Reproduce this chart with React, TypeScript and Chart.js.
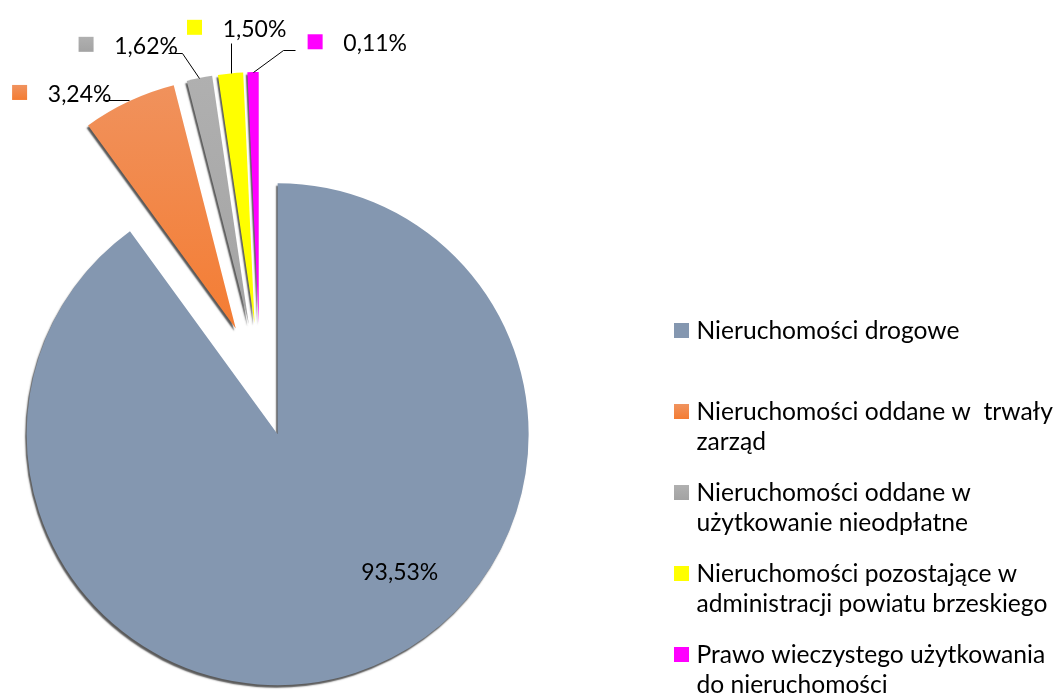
import React, { useEffect, useRef } from "react";
import { Chart, registerables } from "chart.js";

Chart.register(...registerables);

// ---- data ----
const categories = [
  "Nieruchomości drogowe",
  "Nieruchomości oddane w  trwały\nzarząd",
  "Nieruchomości oddane w\nużytkowanie nieodpłatne",
  "Nieruchomości pozostające w\nadministracji powiatu brzeskiego",
  "Prawo wieczystego użytkowania\ndo nieruchomości",
];
// percentages printed on the chart
const percentValues = [93.53, 3.24, 1.62, 1.5, 0.11];
// angular share of each slice as drawn in the picture (degrees / 3.6)
const sliceShares = [89.9, 6.03, 1.64, 1.61, 0.72];
const sliceColors = ["#8497B0", "#F2853F", "#A9A9A9", "#FFFF00", "#FF00FF"];

// ---- style / layout ----
const RADIUS = 251;
const EXPLODE = 57;
const LABEL_FONT = "23px Lato";
const LEGEND_FONT = "24.6px Lato";
// text left/baseline relative to the outer mid point of each slice
const labelOffsets: number[][] = [
  [6, -92.6],
  [-81.2, 0.4],
  [-85.1, -24.5],
  [-7.8, -36.9],
  [90.3, -21.1],
];
const leaderPaths: number[][][] = [
  [],
  [[0, -1.3], [-26, -1.3]],
  [[0, 0], [-17.7, -25.3], [-31.1, -25.3]],
  [[0, 0], [0, -30.7]],
  [[0, 0], [30.3, -22.1], [42, -22.1]],
];
const showKey = [false, true, true, true, true];
const LEGEND_SQ_X = 674;
const LEGEND_TEXT_X = 696.5;
const LEGEND_BASE = 338.5;
const LEGEND_STEP = 81;
const LEGEND_LINE = 30.5;

function fmt(v: number) {
  return v.toFixed(2).replace(".", ",") + "%";
}

function fillFor(ctx: CanvasRenderingContext2D, i: number, y0: number, y1: number) {
  if (i === 1) {
    const g = ctx.createLinearGradient(0, y0, 0, y1);
    g.addColorStop(0, "#F0935F");
    g.addColorStop(1, "#F47C32");
    return g;
  }
  if (i === 2) {
    const g = ctx.createLinearGradient(0, y0, 0, y1);
    g.addColorStop(0, "#B0B0B0");
    g.addColorStop(1, "#A3A3A3");
    return g;
  }
  return sliceColors[i];
}

const decorPlugin = {
  id: "pieDecor",
  beforeDatasetsDraw(chart: any) {
    const meta = chart.getDatasetMeta(0);
    const a = chart.chartArea;
    const cx = (a.left + a.right) / 2;
    const cy = (a.top + a.bottom) / 2;
    meta.data.forEach((el: any) => {
      const mid = (el.startAngle + el.endAngle) / 2;
      el.x = cx + Math.cos(mid) * EXPLODE;
      el.y = cy + Math.sin(mid) * EXPLODE;
    });
    const ctx = chart.ctx;
    ctx.save();
    ctx.shadowColor = "rgba(0,0,0,0.65)";
    ctx.shadowBlur = 1.5;
    ctx.shadowOffsetX = -1.5;
    ctx.shadowOffsetY = 2.5;
  },
  afterDatasetsDraw(chart: any) {
    const ctx: CanvasRenderingContext2D = chart.ctx;
    ctx.restore();
    const meta = chart.getDatasetMeta(0);
    ctx.save();
    meta.data.forEach((el: any, i: number) => {
      const mid = (el.startAngle + el.endAngle) / 2;
      const ax = el.x + Math.cos(mid) * el.outerRadius;
      const ay = el.y + Math.sin(mid) * el.outerRadius;
      const path = leaderPaths[i];
      if (path.length) {
        ctx.beginPath();
        ctx.strokeStyle = "#000";
        ctx.lineWidth = 1;
        path.forEach(([dx, dy], k) => {
          const px = Math.round(ax + dx) + 0.5;
          const py = Math.round(ay + dy) + 0.5;
          if (k === 0) ctx.moveTo(px, py);
          else ctx.lineTo(px, py);
        });
        ctx.stroke();
      }
      const tx = ax + labelOffsets[i][0];
      const ty = ay + labelOffsets[i][1];
      if (showKey[i]) {
        const top = ty - 1.7 - 15;
        ctx.fillStyle = fillFor(ctx, i, top, top + 15) as any;
        ctx.fillRect(tx - 35.7, top, 15, 15);
      }
      ctx.fillStyle = "#000";
      ctx.font = LABEL_FONT;
      ctx.textAlign = "left";
      ctx.textBaseline = "alphabetic";
      ctx.fillText(fmt(percentValues[i]), tx, ty);
    });

    // legend
    categories.forEach((name, i) => {
      const base = LEGEND_BASE + i * LEGEND_STEP;
      const top = base - 15.5;
      ctx.fillStyle = fillFor(ctx, i, top, top + 15) as any;
      ctx.fillRect(LEGEND_SQ_X, top, 15, 15);
      ctx.fillStyle = "#000";
      ctx.font = LEGEND_FONT;
      ctx.textAlign = "left";
      ctx.textBaseline = "alphabetic";
      name.split("\n").forEach((line, k) => {
        ctx.fillText(line, LEGEND_TEXT_X, base + k * LEGEND_LINE);
      });
    });
    ctx.restore();
  },
};

export default function App() {
  const ref = useRef<HTMLCanvasElement | null>(null);
  useEffect(() => {
    if (!ref.current) return;
    const chart = new Chart(ref.current, {
      type: "pie",
      data: {
        labels: categories,
        datasets: [
          {
            data: sliceShares,
            backgroundColor: (c: any) => fillFor(c.chart.ctx, c.dataIndex, 70, 335),
            borderWidth: 0,
            radius: RADIUS,
            clip: false,
          } as any,
        ],
      },
      options: {
        responsive: false,
        animation: false,
        events: [],
        layout: { padding: { left: 0, right: 534, top: 67, bottom: 0 } },
        plugins: { legend: { display: false }, tooltip: { enabled: false } },
      },
      plugins: [decorPlugin],
    });
    return () => chart.destroy();
  }, []);
  return (
    <div style={{ position: "fixed", left: 0, top: 0, width: 1054, height: 693, background: "#fff" }}>
      <canvas ref={ref} width={1054} height={693} style={{ display: "block", width: 1054, height: 693 }} />
    </div>
  );
}
